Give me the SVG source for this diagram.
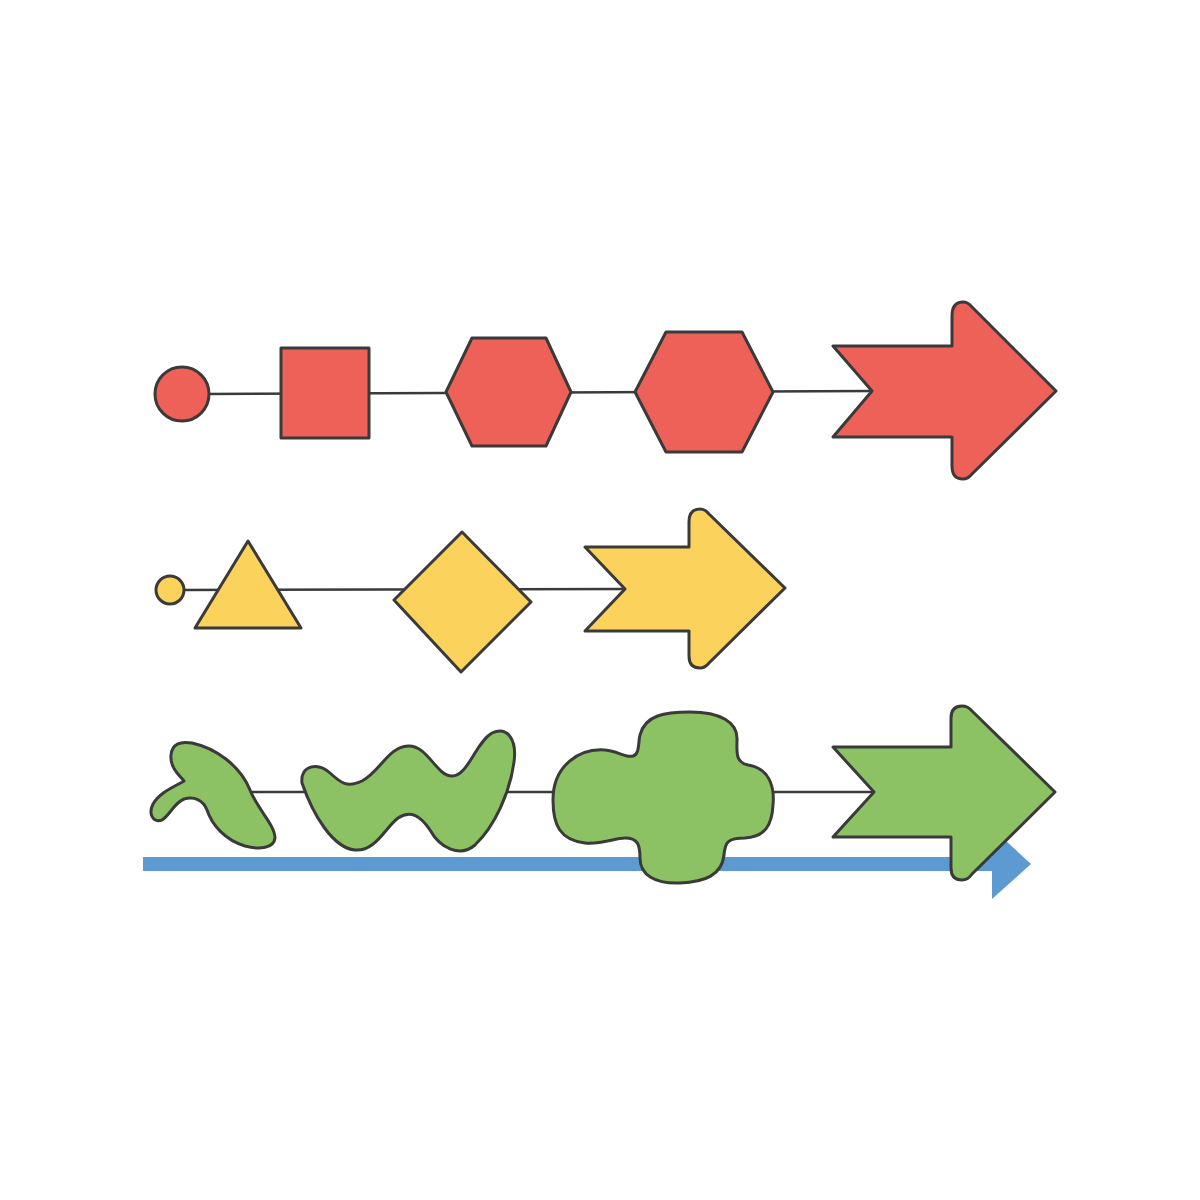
<svg xmlns="http://www.w3.org/2000/svg" width="1200" height="1200" viewBox="0 0 1200 1200">
<style>
.s{stroke:#3a3a3a;stroke-width:3;stroke-linejoin:round}
.r{fill:#EE6158}
.y{fill:#FBD35C}
.g{fill:#8CC263}
.c{stroke:#3a3a3a;stroke-width:2.5;fill:none}
</style>
<rect width="1200" height="1200" fill="#ffffff"/>
<g id="timeline">
<rect x="143" y="857" width="850" height="14" fill="#5E9AD2"/>
<polygon points="992,828 1031,864 992,899" fill="#5E9AD2"/>
</g>
<g id="connectors">
<line class="c" x1="205" y1="394" x2="872" y2="391"/>
<line class="c" x1="183" y1="590" x2="625" y2="589"/>
<line class="c" x1="245" y1="792" x2="874" y2="792"/>
</g>
<g id="red-circle"><circle class="s r" cx="182" cy="394" r="27"/></g>
<g id="red-square"><rect class="s r" x="281" y="348" width="88" height="90"/></g>
<g id="red-hexagon-1"><polygon class="s r" points="446,392 472,338 546,338 571,392 546,446 472,446"/></g>
<g id="red-hexagon-2"><polygon class="s r" points="635,392 666,332 742,332 773,392 742,452 666,452"/></g>
<g id="red-arrow"><path class="s r" d="M833 346 L952 346 L952 316 Q952 302 963 302 Q968 302 972 307 L1056 391 L972 474 Q968 479 963 479 Q952 479 952 466 L952 437 L833 437 L872 391 Z"/></g>
<g id="yellow-circle"><circle class="s y" cx="170" cy="590" r="14"/></g>
<g id="yellow-triangle"><polygon class="s y" points="248,541 301,628 195,628"/></g>
<g id="yellow-diamond"><polygon class="s y" points="462,532 531,602 461,672 394,600"/></g>
<g id="yellow-arrow"><path class="s y" d="M585 547 L689 547 L689 522 Q689 509 700 509 Q705 509 709 514 L785 588 L709 663 Q705 668 700 668 Q689 668 689 656 L689 631 L585 631 L625 589 Z"/></g>
<g id="green-blob-1"><path class="s g" d="M184 781 C178 774 170 767 171 755 C172 744 180 741 192 743 C215 748 240 765 250 790 C258 810 275 825 275 838 C274 848 260 850 245 846 C225 840 212 825 207 810 C203 800 194 796 184 799 C174 803 170 815 162 820 C153 823 148 814 153 804 C160 792 174 787 184 781 Z"/></g>
<g id="green-wave"><path class="s g" d="M302 783 C300 765 318 762 330 773 C341 783 347 788 362 781 C380 772 388 747 408 746 C428 745 436 776 452 776 C468 776 476 742 492 733 C508 726 517 740 514 762 C510 792 495 826 475 845 C460 858 440 848 430 830 C420 815 410 810 398 818 C385 828 375 852 355 850 C333 848 313 815 302 783 Z"/></g>
<g id="green-cloud"><path class="s g" d="M553 800 C553 765 580 748 605 750 C618 751 625 758 633 756 C640 754 638 742 640 735 C645 715 665 712 690 712 C720 712 738 722 737 740 C737 752 735 762 748 765 C768 768 775 785 773 805 C772 825 765 837 745 838 C728 838 725 842 724 855 C722 875 705 882 680 883 C655 884 640 875 640 858 C640 845 638 838 625 838 C615 838 600 845 585 843 C560 840 553 825 553 800 Z"/></g>
<g id="green-arrow"><path class="s g" d="M833 747 L951 747 L951 718 Q951 706 962 706 Q968 706 972 711 L1055 792 L972 874 Q968 880 962 880 Q951 880 951 868 L951 837 L833 837 L874 792 Z"/></g>
</svg>
